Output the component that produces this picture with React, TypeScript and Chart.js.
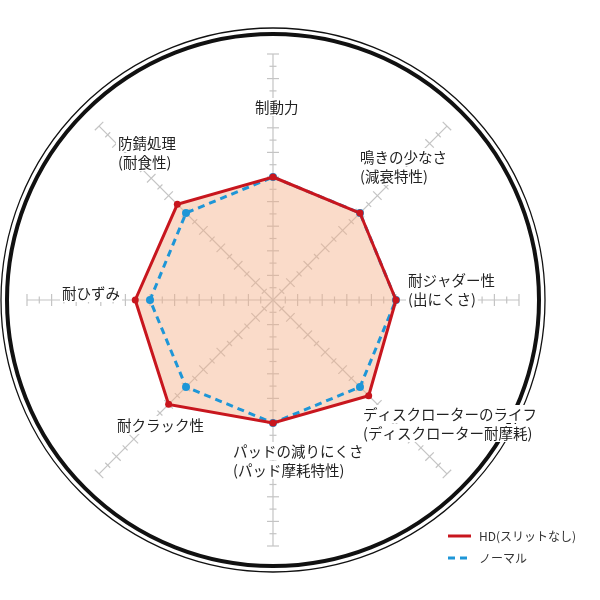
import { useEffect, useRef } from 'react'
import { Chart, registerables } from 'chart.js'

Chart.register(...registerables)

// axes, clockwise from the top
const CATEGORIES = [
  ['制動力'],
  ['鳴きの少なさ', '(減衰特性)'],
  ['耐ジャダー性', '(出にくさ)'],
  ['ディスクローターのライフ', '(ディスクローター耐摩耗)'],
  ['パッドの減りにくさ', '(パッド摩耗特性)'],
  ['耐クラック性'],
  ['耐ひずみ'],
  ['防錆処理', '(耐食性)']
]
const HD_VALUES = [5, 5, 5, 5.5, 5, 6, 5.6, 5.5]
const NORMAL_VALUES = [5, 5, 5, 5, 5, 5, 5, 5]
const SERIES_NAMES = ['HD(スリットなし)', 'ノーマル']
const SCALE_MAX = 10
const TICK_STEP = 0.5

// label placement: left edge / middle of first line, offset from the centre
const LABEL_OFFSETS = [
  [-18, -193],
  [87, -143],
  [135, -20],
  [90, 114],
  [-40, 151],
  [-156, 125],
  [-211, -7],
  [-155, -157]
]

const RED = '#c8161e'
const BLUE = '#1e96d7'
const FONT = '"Noto Sans CJK JP", "Noto Sans", sans-serif'

const decor = {
  id: 'decor',
  beforeDraw(chart: any) {
    const ctx = chart.ctx
    const r = chart.scales.r
    const cx = r.xCenter
    const cy = r.yCenter
    ctx.save()

    // outer double ring
    ctx.strokeStyle = '#111'
    ctx.lineWidth = 4
    ctx.beginPath()
    ctx.arc(cx, cy, r.drawingArea + 20, 0, Math.PI * 2)
    ctx.stroke()
    ctx.lineWidth = 1.3
    ctx.beginPath()
    ctx.arc(cx, cy, r.drawingArea + 26, 0, Math.PI * 2)
    ctx.stroke()

    // axes with cross ticks
    ctx.strokeStyle = '#c4c4c4'
    ctx.lineWidth = 1.2
    CATEGORIES.forEach((_, i) => {
      const end = r.getPointPositionForValue(i, SCALE_MAX)
      ctx.beginPath()
      ctx.moveTo(cx, cy)
      ctx.lineTo(end.x, end.y)
      ctx.stroke()
      const len = Math.hypot(end.x - cx, end.y - cy)
      const nx = -(end.y - cy) / len
      const ny = (end.x - cx) / len
      for (let v = TICK_STEP; v <= SCALE_MAX + 1e-6; v += TICK_STEP) {
        const p = r.getPointPositionForValue(i, v)
        const h = Math.abs(v - Math.round(v)) < 1e-6 ? 6 : 3.5
        ctx.beginPath()
        ctx.moveTo(p.x - nx * h, p.y - ny * h)
        ctx.lineTo(p.x + nx * h, p.y + ny * h)
        ctx.stroke()
      }
    })

    // category labels
    ctx.font = `14.5px ${FONT}`
    ctx.textBaseline = 'middle'
    ctx.textAlign = 'left'
    CATEGORIES.forEach((lines, i) => {
      const [dx, dy] = LABEL_OFFSETS[i]
      lines.forEach((t, k) => {
        const x = cx + dx
        const y = cy + dy + k * 19
        const w = ctx.measureText(t).width
        ctx.fillStyle = '#fff'
        ctx.fillRect(x - 2, y - 9, w + 4, 18)
        ctx.fillStyle = '#222'
        ctx.fillText(t, x, y)
      })
    })
    ctx.restore()
  },
  afterDraw(chart: any) {
    const ctx = chart.ctx
    const r = chart.scales.r
    const x = r.xCenter + 175
    const y = r.yCenter + 236
    ctx.save()
    ctx.lineWidth = 3
    ctx.strokeStyle = RED
    ctx.beginPath()
    ctx.moveTo(x, y)
    ctx.lineTo(x + 23, y)
    ctx.stroke()
    ctx.strokeStyle = BLUE
    ctx.setLineDash([7, 5])
    ctx.beginPath()
    ctx.moveTo(x, y + 22)
    ctx.lineTo(x + 21, y + 22)
    ctx.stroke()
    ctx.setLineDash([])
    ctx.font = `12px ${FONT}`
    ctx.fillStyle = '#333'
    ctx.textBaseline = 'middle'
    ctx.fillText(SERIES_NAMES[0], x + 31, y)
    ctx.fillText(SERIES_NAMES[1], x + 31, y + 22)
    ctx.restore()
  }
}

export default function App() {
  const canvasRef = useRef<HTMLCanvasElement>(null)

  useEffect(() => {
    if (!canvasRef.current) return
    const chart = new Chart(canvasRef.current, {
      type: 'radar',
      data: {
        labels: CATEGORIES,
        datasets: [
          {
            label: SERIES_NAMES[0],
            data: HD_VALUES,
            borderColor: RED,
            borderWidth: 3,
            backgroundColor: 'rgba(243, 175, 135, 0.45)',
            fill: true,
            pointRadius: 3.5,
            pointBorderWidth: 0,
            pointBackgroundColor: RED
          },
          {
            label: SERIES_NAMES[1],
            data: NORMAL_VALUES,
            borderColor: BLUE,
            borderWidth: 3,
            borderDash: [7, 5],
            fill: false,
            pointRadius: 4,
            pointBorderWidth: 0,
            pointBackgroundColor: BLUE
          }
        ]
      },
      options: {
        responsive: false,
        animation: false,
        layout: { padding: { left: 27, right: 81, top: 54, bottom: 54 } },
        scales: {
          r: {
            min: 0,
            max: SCALE_MAX,
            ticks: { display: false, stepSize: 1 },
            grid: { display: false },
            angleLines: { display: false },
            pointLabels: { display: false }
          }
        },
        plugins: {
          legend: { display: false },
          tooltip: { enabled: false },
          filler: { drawTime: 'beforeDatasetsDraw' }
        }
      },
      plugins: [decor]
    })
    return () => {
      chart.destroy()
    }
  }, [])

  return (
    <div style={{ position: 'fixed', left: 0, top: 0, width: 600, height: 600, background: '#fff' }}>
      <canvas ref={canvasRef} width={600} height={600}></canvas>
    </div>
  )
}
